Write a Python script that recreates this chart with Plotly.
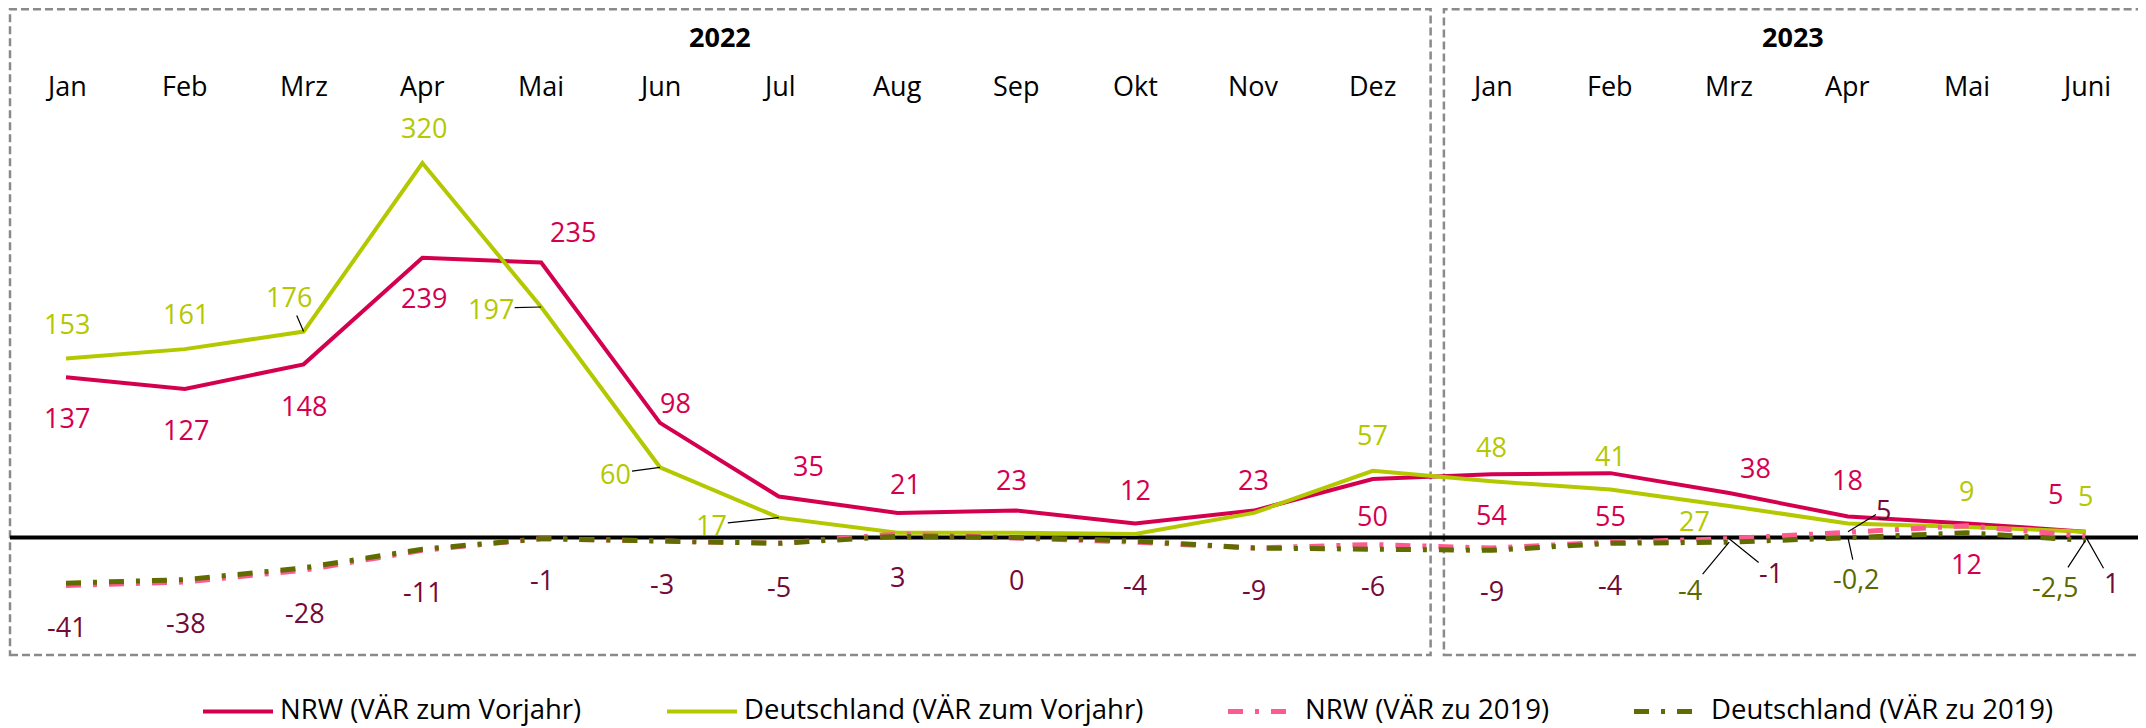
import plotly.graph_objects as go

# ---------------- data ----------------
months = ["Jan", "Feb", "Mrz", "Apr", "Mai", "Jun", "Jul", "Aug", "Sep", "Okt", "Nov", "Dez",
          "Jan", "Feb", "Mrz", "Apr", "Mai", "Juni"]
years = ["2022", "2023"]
year_month_counts = [12, 6]

nrw_vorjahr = [137, 127, 148, 239, 235, 98, 35, 21, 23, 12, 23, 50, 54, 55, 38, 18, 12, 5]
de_vorjahr = [153, 161, 176, 320, 197, 60, 17, 4, 4, 3, 21, 57, 48, 41, 27, 12, 9, 5]
nrw_2019 = [-41, -38, -28, -11, -1, -3, -5, 3, 0, -4, -9, -6, -9, -4, -1, 5, 10, 1]
de_2019 = [-39, -36, -26, -10, -1, -3, -5, 1, 0, -3, -9, -10, -11, -5, -4, -0.2, 4, -2.5]

series_names = ["NRW (VÄR zum Vorjahr)", "Deutschland (VÄR zum Vorjahr)",
                "NRW (VÄR zu 2019)", "Deutschland (VÄR zu 2019)"]

# ---------------- style ----------------
FONT = "Open Sans"
FS = 27
FS_LEG = 27.5
C_NRW = "#D4004F"
C_DE = "#B4C800"
C_NRW19 = "#FF5A8F"
C_DE19 = "#606C00"
C_NRW19_TXT = "#730A37"
C_DE19_TXT = "#5C6800"
DASHDOT = "15px,12px,4px,12px"

W, H = 2138, 720          # figure size (page body adds an 8px offset)
OFF = 8


def px_x(p):               # page pixel -> paper x
    return (p - OFF) / W


def px_y(p):               # page pixel -> paper y
    return (H - (p - OFF)) / H


# label placement (pixel offsets from the point: dx, dy(down), leader)
lbl_nrw_vj = {0: (1, 40), 1: (1, 41), 2: (0, 41), 3: (2, 40), 4: (32, -31), 5: (16, -20),
              6: (30, -31), 7: (8, -29), 8: (-5, -31), 9: (0, -34), 10: (0, -31), 11: (0, 36),
              12: (0, 40), 13: (0, 42), 14: (26, -26), 15: (0, -37), 16: (0, 40), 17: (-30, -38)}
lbl_de_vj = {0: (1, -35), 1: (1, -36), 2: (-15, -35, True), 3: (2, -36), 4: (-50, 1, True),
             5: (-44, 6, True), 6: (-67, 7, True), 11: (0, -36), 12: (0, -35), 13: (0, -34),
             14: (-35, 15), 16: (0, -36), 17: (0, -36)}
lbl_nrw_19 = {0: (1, 41), 1: (1, 41), 2: (1, 42), 3: (1, 41), 4: (1, 41), 5: (2, 42), 6: (0, 43),
              7: (0, 43), 8: (0, 42), 9: (0, 42), 10: (0, 41), 11: (0, 41), 12: (0, 42), 13: (0, 42),
              14: (42, 34, True), 15: (36, -22, True), 17: (26, 46, True)}
lbl_de_19 = {14: (-39, 47, True), 15: (9, 41, True), 17: (-30, 46, True)}

x_idx = list(range(len(months)))

fig = go.Figure()
series = [
    (series_names[0], nrw_vorjahr, C_NRW, "solid", 4),
    (series_names[1], de_vorjahr, C_DE, "solid", 4),
    (series_names[2], nrw_2019, C_NRW19, DASHDOT, 5),
    (series_names[3], de_2019, C_DE19, DASHDOT, 5),
]
for name, vals, col, dash, w in series:
    fig.add_trace(go.Scatter(x=x_idx, y=vals, mode="lines", name=name,
                             line=dict(color=col, width=w, dash=dash),
                             showlegend=False, hoverinfo="skip"))


def fmt(v):
    v = float(v)
    if v.is_integer():
        return str(int(v))
    return str(v).replace(".", ",")


annotations = []
for vals, spec, col in [(nrw_vorjahr, lbl_nrw_vj, C_NRW), (de_vorjahr, lbl_de_vj, C_DE),
                        (nrw_2019, lbl_nrw_19, C_NRW19_TXT), (de_2019, lbl_de_19, C_DE19_TXT)]:
    for i, s in spec.items():
        dx, dy = s[0], s[1]
        leader = len(s) > 2 and s[2]
        base = dict(x=x_idx[i], y=vals[i], xref="x", yref="y", text=fmt(vals[i]),
                    xanchor="center", yanchor="middle",
                    font=dict(family=FONT, size=FS, color=col))
        if leader:
            annotations.append(dict(**base, showarrow=True, arrowhead=0, arrowwidth=1.2,
                                    arrowcolor="black", ax=dx, ay=dy, standoff=0,
                                    borderpad=0))
        else:
            annotations.append(dict(**base, showarrow=False, xshift=dx, yshift=-dy))

# month labels
for i, m in enumerate(months):
    annotations.append(dict(x=x_idx[i], y=px_y(86), xref="x", yref="paper", text=m,
                            xanchor="center", yanchor="middle", showarrow=False,
                            font=dict(family=FONT, size=FS, color="black")))

# year boxes + year labels
box_edges = [(-0.4714, 11.487), (11.599, 17.483)]
shapes = []
for yr, (bx0, bx1) in zip(years, box_edges):
    shapes.append(dict(type="rect", xref="x", yref="paper", x0=bx0, x1=bx1,
                       y0=px_y(655), y1=(H - 1.25) / H,
                       line=dict(color="#8A8A8A", width=2.5, dash="8px,4px"), layer="below"))
    annotations.append(dict(x=(bx0 + bx1) / 2, y=px_y(37), xref="x", yref="paper",
                            text="<b>" + yr + "</b>", xanchor="center", yanchor="middle",
                            showarrow=False, font=dict(family=FONT, size=FS, color="black")))

# zero line
shapes.append(dict(type="line", xref="x", yref="y", x0=-0.4714, x1=17.483, y0=0, y1=0,
                   line=dict(color="black", width=4), layer="below"))

# legend (line sample + text per series)
legend_line_x = [203, 667, 1228, 1634]
for (name, vals, col, dash, w), lx in zip(series, legend_line_x):
    shapes.append(dict(type="line", xref="paper", yref="paper", x0=px_x(lx), x1=px_x(lx + 70),
                       y0=px_y(711.5), y1=px_y(711.5),
                       line=dict(color=col, width=min(w, 5), dash=dash)))
    annotations.append(dict(x=px_x(lx + 76), y=px_y(708.5), xref="paper", yref="paper",
                            text=name, xanchor="left", yanchor="middle", showarrow=False,
                            borderpad=0,
                            font=dict(family=FONT, size=FS_LEG, color="black")))

fig.update_layout(
    width=W, height=H,
    margin=dict(l=0, r=0, t=0, b=0, pad=0, autoexpand=False),
    paper_bgcolor="white", plot_bgcolor="white",
    xaxis=dict(range=[-0.4882, 17.509], visible=False, fixedrange=True),
    yaxis=dict(range=[-162.82, 452.56], visible=False, fixedrange=True),
    shapes=shapes, annotations=annotations,
    showlegend=False,
)

fig.write_html("out.html")
